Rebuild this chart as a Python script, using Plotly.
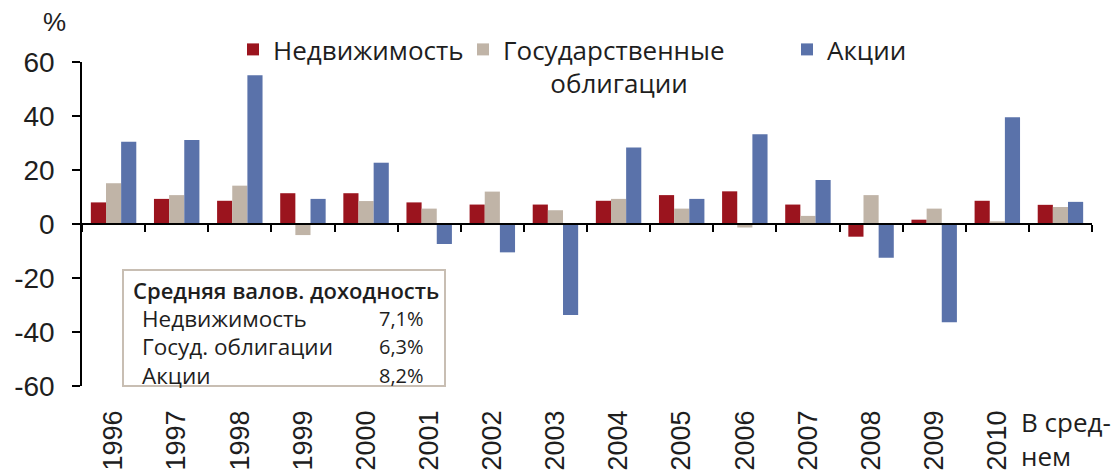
import plotly.graph_objects as go

categories = ["1996", "1997", "1998", "1999", "2000", "2001", "2002", "2003",
              "2004", "2005", "2006", "2007", "2008", "2009", "2010", "В среднем"]
tick_labels = ["1996", "1997", "1998", "1999", "2000", "2001", "2002", "2003",
               "2004", "2005", "2006", "2007", "2008", "2009", "2010", ""]
realty = [8.0, 9.3, 8.6, 11.4, 11.4, 8.0, 7.2, 7.2, 8.6, 10.7, 12.1, 7.2, -4.7, 1.6, 8.6, 7.1]
bonds = [15.1, 10.7, 14.2, -4.1, 8.5, 5.7, 12.0, 5.1, 9.3, 5.7, -1.3, 3.0, 10.7, 5.7, 1.0, 6.3]
stocks = [30.5, 31.1, 55.1, 9.3, 22.7, -7.4, -10.5, -33.7, 28.3, 9.3, 33.2, 16.3, -12.5, -36.4, 39.5, 8.2]
series_names = ["Недвижимость", "Государственные", "Акции"]
box_title = "Средняя валов. доходность"
box_rows = ["Недвижимость", "Госуд. облигации", "Акции"]
avg_values = [7.1, 6.3, 8.2]
y_ticks = [-60, -40, -20, 0, 20, 40, 60]

W, H = 1120, 474
ML, MR, MT, MB = 82, 28, 62, 88
PW, PH = W - ML - MR, H - MT - MB


def px_x(p):
    return (p - ML) / PW


def px_y(p):
    return 1 - (p - MT) / PH


RED, BEIGE, BLUE = "#9B141E", "#C0B4A7", "#5A72AA"
TXT = "#1e1e1e"
FONT = "Open Sans"
NUMFONT = "Arial"

fig = go.Figure()
fig.add_trace(go.Bar(x=categories, y=realty, name=series_names[0], marker_color=RED,
                     marker_line_width=0, legend="legend"))
fig.add_trace(go.Bar(x=categories, y=bonds,
                     name=series_names[1] + "<br>" + "\u00a0" * 7 + "облигации",
                     marker_color=BEIGE, marker_line_width=0, legend="legend2"))
fig.add_trace(go.Bar(x=categories, y=stocks, name=series_names[2], marker_color=BLUE,
                     marker_line_width=0, legend="legend3"))

leg_common = dict(xref="container", yref="container", xanchor="left", yanchor="top",
                  bgcolor="rgba(0,0,0,0)", font=dict(family=FONT, size=26, color=TXT),
                  itemwidth=30, valign="top", orientation="h")
fig.update_layout(
    width=W, height=H,
    margin=dict(l=ML, r=MR, t=MT, b=MB, autoexpand=False),
    plot_bgcolor="white", paper_bgcolor="white",
    barmode="group", bargap=0.28, bargroupgap=0,
    showlegend=True,
    legend=dict(x=233 / W, y=1 - 26 / H, **leg_common),
    legend2=dict(x=463 / W, y=1 - 26 / H, **leg_common),
    legend3=dict(x=787 / W, y=1 - 26 / H, **leg_common),
    xaxis=dict(type="category", categoryorder="array", categoryarray=categories,
               tickvals=categories, ticktext=tick_labels, tickangle=-90,
               ticks="", showline=False, showgrid=False, zeroline=False,
               tickfont=dict(family=NUMFONT, size=27, color=TXT),
               ticklabelstandoff=18, range=[-0.5, len(categories) - 0.5]),
    xaxis2=dict(overlaying="x", anchor="free", position=0.5, type="linear",
                range=[-0.5, len(categories) - 0.5],
                tickvals=[i - 0.5 for i in range(len(categories) + 1)],
                showticklabels=False, ticks="outside", ticklen=7, tickwidth=1.5,
                tickcolor="black", showline=True, linecolor="black", linewidth=2,
                showgrid=False, zeroline=False),
    yaxis=dict(range=[-60, 60], tickvals=y_ticks, ticktext=[str(v) for v in y_ticks],
               showline=True, linecolor="black", linewidth=1.5, ticks="outside",
               ticklen=8, tickwidth=1.5, tickcolor="black", showgrid=False,
               zeroline=False, ticklabelstandoff=12,
               tickfont=dict(family=NUMFONT, size=28, color=TXT)),
)

# dummy invisible trace so xaxis2 renders
fig.add_trace(go.Scatter(x=[0], y=[0], xaxis="x2", mode="markers",
                         marker=dict(opacity=0), showlegend=False, hoverinfo="skip"))

# "%" label
fig.add_annotation(text="%", xref="paper", yref="paper", x=px_x(54), y=px_y(22),
                   xanchor="center", yanchor="middle",
                   showarrow=False, font=dict(family=NUMFONT, size=26, color=TXT))

# "В среднем" label
fig.add_annotation(text="В сред-<br>нем", xref="paper", yref="paper",
                   x=px_x(1019), y=px_y(402), xanchor="left", yanchor="top", align="left",
                   showarrow=False, font=dict(family=FONT, size=26, color=TXT))

# average box
fig.add_shape(type="rect", xref="paper", yref="paper",
              x0=px_x(123), x1=px_x(445), y0=px_y(386), y1=px_y(270),
              line=dict(color="#C8BEB3", width=2), fillcolor="white", layer="above")
fig.add_annotation(text=box_title, xref="paper", yref="paper", x=px_x(131), y=px_y(290),
                   xanchor="left", yanchor="middle", showarrow=False,
                   font=dict(family=FONT, size=22, color=TXT, weight=600))
row_y = [318, 346, 375]
for label, val, yy in zip(box_rows, avg_values, row_y):
    fig.add_annotation(text=label, xref="paper", yref="paper", x=px_x(140), y=px_y(yy),
                       xanchor="left", yanchor="middle", showarrow=False,
                       font=dict(family=FONT, size=22.5, color=TXT))
    fig.add_annotation(text=f"{val:.1f}%".replace(".", ","), xref="paper", yref="paper",
                       x=px_x(426), y=px_y(yy), xanchor="right", yanchor="middle",
                       showarrow=False, font=dict(family=FONT, size=20, color=TXT))

fig.write_html("out.html",
               config={"displayModeBar": False},
               post_script="document.body.style.margin='0';"
                           "document.body.style.overflow='hidden';")
